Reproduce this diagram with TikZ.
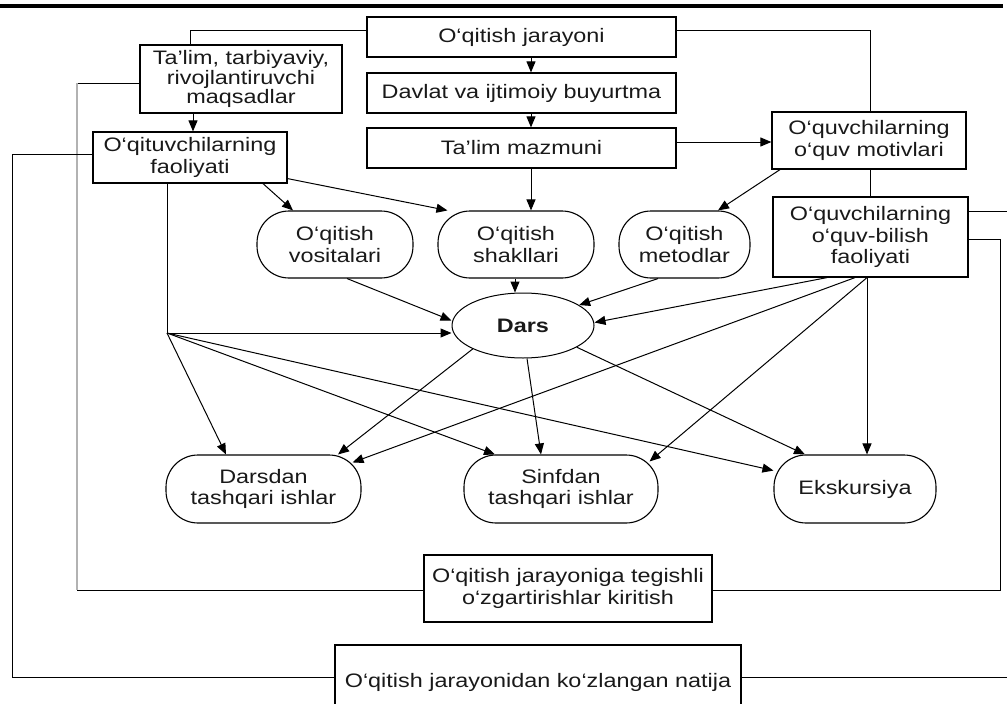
\documentclass[tikz,border=0pt]{standalone}
\usepackage{fontspec}
\setmainfont{Liberation Sans}[FakeStretch=1.2]
\usetikzlibrary{arrows.meta,shapes.geometric,calc}
\begin{document}
\begin{tikzpicture}[x=1pt,y=-1pt,
  every node/.style={font=\fontsize{19.5}{21.5}\selectfont, text=black!90, align=center, inner sep=0pt},
  box/.style={draw, line width=1.2pt},
  rbox/.style={draw, line width=1.1pt, rounded corners=32pt, minimum height=67pt},
  ln/.style={line width=1pt},
  arr/.style={ln, -{Triangle[length=11pt,width=9pt]}},
  fb/.style={line width=2.4pt, black!30}
]
\useasboundingbox (0,0) rectangle (1007,704);
% top rule
\draw[line width=4.5pt] (0,6) -- (1003,6);

% boxes
\node[box, minimum width=309pt, minimum height=40pt] (jar) at (521.5,37) {O‘qitish jarayoni};
\node[box, minimum width=309pt, minimum height=40pt] (davlat) at (521.5,93) {Davlat va ijtimoiy buyurtma};
\node[box, minimum width=309pt, minimum height=40pt] (mazmun) at (521.5,148) {Ta’lim mazmuni};
\node[box, minimum width=202pt, minimum height=68pt, font=\fontsize{19.5}{16.5}\selectfont] (talim) at (241,79) {Ta’lim, tarbiyaviy,\\rivojlantiruvchi\\maqsadlar};
\node[box, minimum width=194pt, minimum height=51pt] (oqituv) at (190,157.5) {O‘qituvchilarning\\faoliyati};
\node[box, minimum width=194pt, minimum height=57pt] (motiv) at (869,140.5) {O‘quvchilarning\\o‘quv motivlari};
\node[box, minimum width=195pt, minimum height=80pt] (bilish) at (870.5,237) {O‘quvchilarning\\o‘quv-bilish\\faoliyati};

\node[rbox, minimum width=156pt] (vosita) at (335,244.5) {O‘qitish\\vositalari};
\node[rbox, minimum width=156pt] (shakl) at (516,244.5) {O‘qitish\\shakllari};
\node[rbox, minimum width=131pt] (metod) at (684.5,244.5) {O‘qitish\\metodlar};

\node[draw, ellipse, line width=1pt, minimum width=142pt, minimum height=65pt,
      font=\fontsize{19.5}{21.5}\selectfont\bfseries] (dars) at (523,325.5) {Dars};

\node[rbox, minimum width=195pt, minimum height=68pt] (darsdan) at (263.5,489) {Darsdan\\tashqari ishlar};
\node[rbox, minimum width=194pt, minimum height=68pt] (sinf) at (561,489) {Sinfdan\\tashqari ishlar};
\node[rbox, minimum width=162pt, minimum height=68pt] (eksk) at (855,489) {Ekskursiya};

\node[box, minimum width=288pt, minimum height=67pt] (teg) at (568,588.5) {O‘qitish jarayoniga tegishli\\o‘zgartirishlar kiritish};
\node[box, minimum width=406pt, minimum height=74pt] (natija) at (538,682) {O‘qitish jarayonidan ko‘zlangan natija};

% coordinates
\coordinate (br) at (167,333);
\coordinate (g1) at (77,83);
\coordinate (g2) at (77,590);
\coordinate (l1) at (12,154);
\coordinate (l2) at (12,677);
\coordinate (r2) at (1000,590);
\coordinate (e1) at (1007,211);
\coordinate (e2) at (1007,677);

% top structure
\draw[ln] (jar.west |- 0,30) -| (talim.north -| 190,0);
\draw[ln] (jar.east |- 0,30) -| (motiv.north -| 870,0);
\draw[arr] (jar.south -| 531,0) -- (davlat.north -| 531,0);
\draw[arr] (davlat.south -| 531,0) -- (mazmun.north -| 531,0);
\draw[arr] (mazmun.south -| 531,0) -- (shakl.north -| 531,0);
\draw[arr] (mazmun.east |- 0,142) -- (motiv.west |- 0,142);
\draw[ln] (motiv.south -| 870,0) -- (bilish.north -| 870,0);
\draw[arr] (motiv.south -| 780,0) -- (metod.north -| 718,0);
\draw[arr] (talim.south -| 193,0) -- (oqituv.north -| 193,0);

% feedback loops
\draw[ln] (talim.west |- g1) -- (g1);
\draw[fb] (g1) -- (g2);
\draw[ln] (g2) -- (teg.west |- g2);
\draw[ln] (oqituv.west |- l1) -- (l1) -- (l2) -- (natija.west |- l2);
\draw[ln] (bilish.east |- e1) -- (e1);
\draw[ln] (bilish.east |- 0,239) -| (r2) -- (teg.east |- r2);
\draw[ln] (natija.east |- e2) -- (e2);

% teacher activity
\draw[arr] (oqituv.south -| 263,0) -- (vosita.north -| 293,0);
\draw[arr] ([yshift=5pt]oqituv.south east) -- ([xshift=10pt]shakl.north west);
\draw[ln] (oqituv.south -| br) -- (br);
\draw[arr] (br) -- (dars.west |- br);
\draw[arr] (br) -- (darsdan.north -| 226,0);
\draw[arr] (br) -- (sinf.north -| 495,0);
\draw[arr] (br) -- (eksk);

% into Dars
\draw[arr] (vosita.south -| 347,0) -- ([yshift=5pt]dars.west);
\draw[arr] (shakl.south -| 515,0) -- (dars.north -| 515,0);
\draw[arr] (metod.south -| 658,0) -- (dars.20);
\draw[arr] (bilish.south -| 827,0) -- ([yshift=3pt]dars.east);

% from pupils' activity
\draw[arr] (bilish.south -| 855,0) -- ([xshift=-9pt,yshift=-8pt]darsdan.north east);
\draw[arr] (bilish.south -| 867,0) -- ([xshift=-9pt,yshift=-7pt]sinf.north east);
\draw[arr] (bilish.south -| 867,0) -- (eksk.north -| 867,0);

% from Dars
\draw[arr] (dars.-155) -- (darsdan.north -| 338,0);
\draw[arr] (dars.south -| 527,0) -- (sinf.north -| 541,0);
\draw[arr] (dars.-22) -- (eksk.north -| 805,0);
\end{tikzpicture}
\end{document}
